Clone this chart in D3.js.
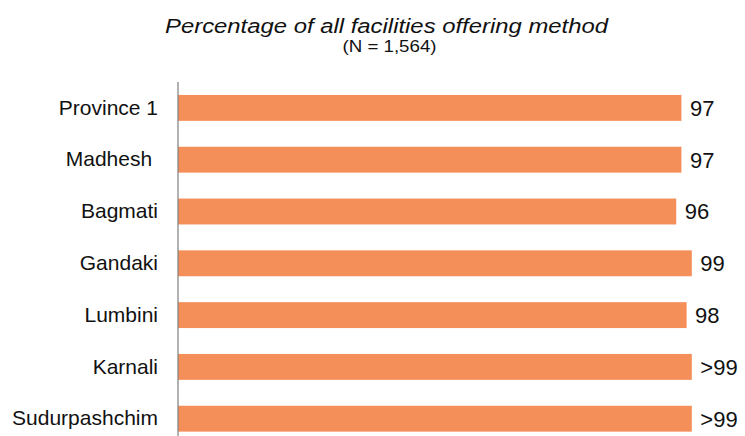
<!DOCTYPE html>
<html>
<head>
<meta charset="utf-8">
<script src="https://cdn.jsdelivr.net/npm/d3@7"></script>
<style>
  body { margin: 0; background: #fff; }
  text { font-family: "Liberation Sans", sans-serif; fill: #111; }
</style>
</head>
<body>
<div id="main"></div>
<script>
var WIDTH = 745
var HEIGHT = 436

var provinces = ["Province 1", "Madhesh ", "Bagmati", "Gandaki", "Lumbini", "Karnali", "Sudurpashchim"]
var values = [97, 97, 96, 99, 98, 99, 99]
var valueLabels = ["97", "97", "96", "99", "98", ">99", ">99"]

var title = "Percentage of all facilities offering method"
var subtitle = "(N = 1,564)"

const svg = d3.select('#main').append("svg")
    .attr('width', WIDTH)
    .attr('height', HEIGHT)

var x = d3.scaleLinear().domain([0, 100]).range([178, 697])
var y = d3.scaleBand()
    .domain(provinces)
    .range([82, 444.6])
    .paddingInner(0.5)
    .paddingOuter(0.25)

// title
svg.append('text')
    .attr('x', 386.5)
    .attr('y', 32.7)
    .attr('text-anchor', 'middle')
    .attr('font-size', 20)
    .attr('font-style', 'italic')
    .attr('textLength', 443)
    .attr('lengthAdjust', 'spacingAndGlyphs')
    .text(title)

svg.append('text')
    .attr('x', 389.5)
    .attr('y', 51.7)
    .attr('text-anchor', 'middle')
    .attr('font-size', 17)
    .attr('textLength', 94)
    .attr('lengthAdjust', 'spacingAndGlyphs')
    .text(subtitle)

// bars
svg.selectAll('rect.bar')
    .data(values)
    .enter()
    .append('rect')
    .attr('class', 'bar')
    .attr('x', x(0))
    .attr('y', (d, i) => y(provinces[i]))
    .attr('width', d => x(d) - x(0))
    .attr('height', y.bandwidth())
    .attr('fill', '#f58f59')

// value labels
svg.selectAll('text.val')
    .data(values)
    .enter()
    .append('text')
    .attr('class', 'val')
    .attr('x', d => x(d) + 8.5)
    .attr('y', (d, i) => y(provinces[i]) + y.bandwidth() / 2)
    .attr('dy', '0.36em')
    .attr('font-size', 22)
    .text((d, i) => valueLabels[i])

// category axis
var axis = svg.append('g')
    .attr('transform', 'translate(' + x(0) + ',0)')
    .call(d3.axisLeft(y).tickSize(0).tickPadding(20))
axis.select('.domain').remove()
axis.selectAll('text')
    .attr('font-size', 21)
    .attr('font-family', '"Liberation Sans", sans-serif')
    .attr('fill', '#111')
    .style('white-space', 'pre')

svg.append('line')
    .attr('x1', x(0)).attr('x2', x(0))
    .attr('y1', 82).attr('y2', HEIGHT)
    .attr('stroke', '#7f7f7f')
    .attr('stroke-width', 1.2)
</script>
</body>
</html>
